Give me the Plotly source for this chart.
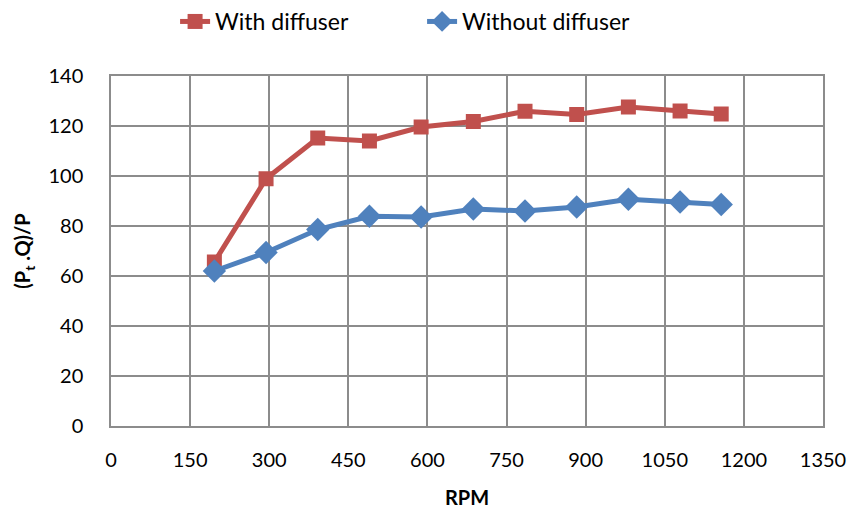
import plotly.graph_objects as go

rpm = [196, 294, 392, 490, 588, 687, 785, 883, 981, 1079, 1157]
with_diffuser = [65.6, 98.9, 115.2, 114.0, 119.6, 121.8, 125.9, 124.6, 127.6, 126.0, 124.8]
without_diffuser = [62.0, 69.4, 78.6, 83.9, 83.6, 86.8, 86.0, 87.6, 90.7, 89.6, 88.6]

font_family = "Lato, 'Open Sans', sans-serif"

fig = go.Figure()
fig.add_trace(go.Scatter(
    x=rpm, y=with_diffuser, name="With diffuser", mode="lines+markers",
    line=dict(color="#C0504D", width=5),
    marker=dict(symbol="square", size=15, color="#C0504D"),
))
fig.add_trace(go.Scatter(
    x=rpm, y=without_diffuser, name="Without diffuser", mode="lines+markers",
    line=dict(color="#4F81BD", width=5),
    marker=dict(symbol="diamond", size=18, color="#4F81BD"),
))

grid = "#8C8C8C"
fig.update_layout(
    width=850, height=510,
    margin=dict(l=111, r=27, t=76, b=84, autoexpand=False),
    paper_bgcolor="white", plot_bgcolor="white",
    font=dict(family=font_family, size=20, color="black"),
    legend=dict(orientation="h", x=0.09, xanchor="left", y=1.0, yanchor="top",
                yref="container", font=dict(size=23), tracegroupgap=0,
                entrywidth=202, entrywidthmode="pixels"),
    showlegend=True,
)
fig.update_xaxes(
    range=[0, 1350], dtick=150, tick0=0, automargin=False,
    showgrid=True, gridcolor=grid, gridwidth=1.5,
    showline=True, linecolor=grid, linewidth=1.5, mirror=True,
    zeroline=False, ticks="", ticklabelstandoff=15,
    title=dict(text="<b>RPM</b>", font=dict(size=20), standoff=21),
)
fig.update_yaxes(
    range=[0, 140], dtick=20, tick0=0, automargin=False,
    showgrid=True, gridcolor=grid, gridwidth=1.5,
    showline=True, linecolor=grid, linewidth=1.5, mirror=True,
    zeroline=False, ticks="", ticklabelstandoff=22,
    title=dict(text="<b>(P<sub>t</sub> .Q)/P</b>", font=dict(size=20), standoff=12),
)

fig.write_html("out.html")
